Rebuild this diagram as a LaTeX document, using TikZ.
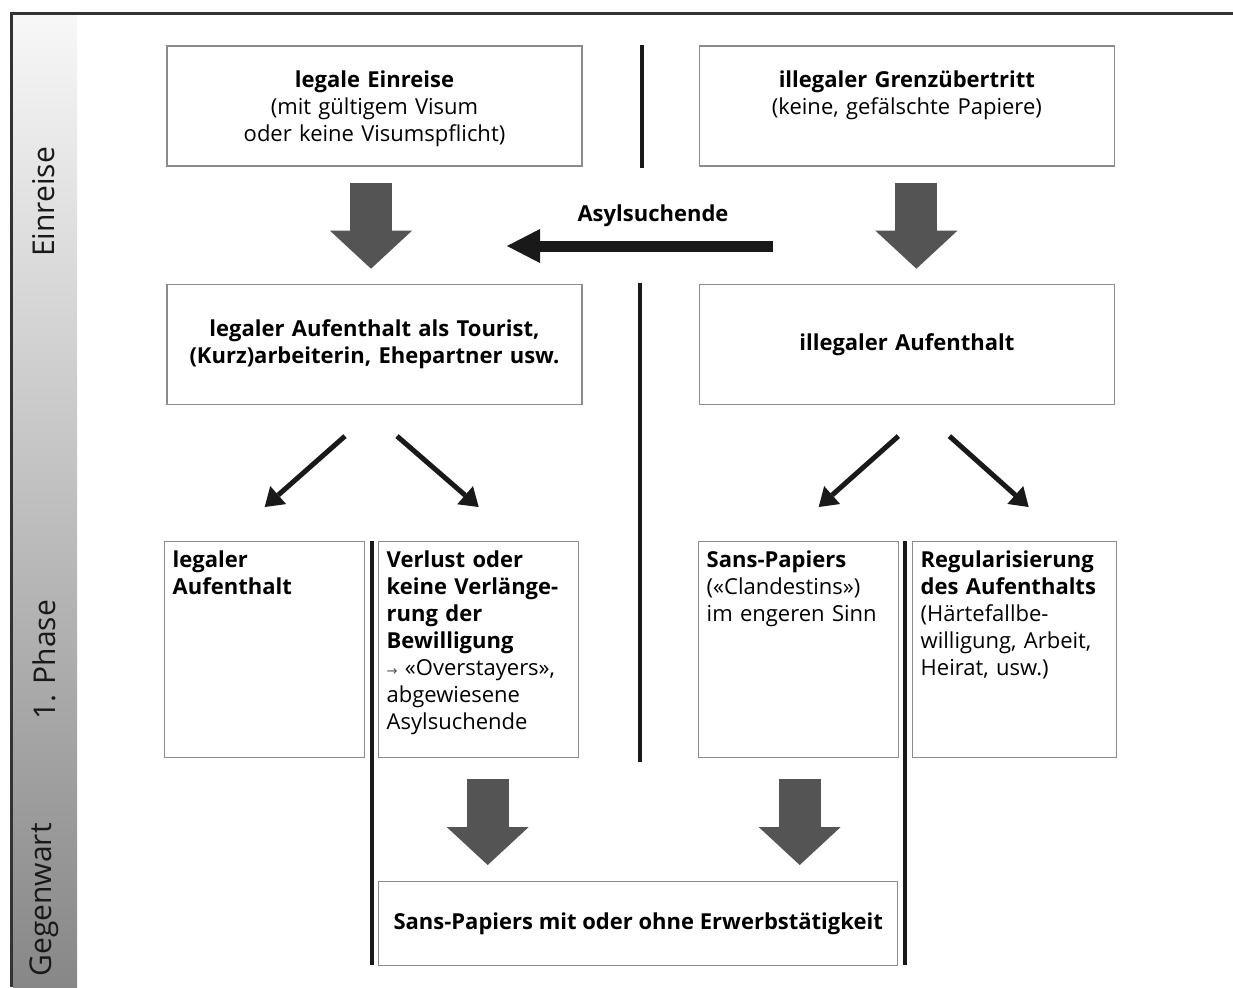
\documentclass[tikz,border=0pt]{standalone}
\usepackage{fontspec}
\setmainfont{Open Sans}
\newfontfamily\arrowfont{DejaVu Sans}
\usetikzlibrary{positioning,arrows.meta}
\tikzset{
  basic/.style    = {draw=black!45, line width=0.7pt, rectangle,
                     font=\fontsize{11pt}{13.5pt}\selectfont},
  topbox/.style   = {basic, text width=207.5pt, align=center, inner sep=0pt,
                     text height=20.5pt, text depth=39.5pt},
  midbox/.style   = {basic, text width=207.5pt, align=center, inner sep=0pt,
                     minimum height=60pt},
  smallbox/.style = {basic, anchor=north west, text width=92pt, align=left,
                     inner xsep=4pt, inner ysep=3pt,
                     text height=10pt, text depth=92pt},
  endbox/.style   = {basic, anchor=north west, align=center,
                     minimum width=259.5pt, minimum height=42pt},
  phase/.style    = {rotate=90, font=\fontsize{15pt}{17pt}\selectfont,
                     text=black!90},
  fatarrow/.style = {draw=black!67, line width=21pt,
                     -{Triangle[length=19pt,width=41pt,line width=0pt]}},
  thinarrow/.style = {draw=black!90, line width=2.5pt,
                     -{Triangle[length=9pt,width=12pt,line width=0pt]}},
  divider/.style  = {draw=black!90, line width=2pt}
}
\begin{document}
\begin{tikzpicture}[x=0.5pt, y=-0.5pt]
  \useasboundingbox (0,0) rectangle (1233,987);

  % frame and phase bar on the left
  \shade[top color=black!3, bottom color=black!47] (13,15) rectangle (77,987);
  \draw[black!80, line width=1.5pt] (11,987) -- (11,13) -- (1233,13);
  \node[phase] (einreise) at (44,202) {Einreise};
  \node[phase] (phase1) at (44,660) {1. Phase};
  \node[phase] (gegenwart) at (44,900) {Gegenwart};

  % first row: entry
  \node[topbox] (legal) at (374.5,106)
    {\textbf{legale Einreise}\\(mit gültigem Visum\\oder keine Visumspflicht)};
  \node[topbox, right=58pt of legal] (illegal)
    {\textbf{illegaler Grenzübertritt}\\(keine, gefälschte Papiere)};

  % second row: stay
  \node[midbox, below=58.5pt of legal, font=\fontsize{11pt}{13.5pt}\selectfont\bfseries] (legalstay)
    {legaler Aufenthalt als Tourist,\\(Kurz)arbeiterin, Ehepartner usw.};
  \node[midbox, below=58.5pt of illegal, font=\fontsize{11pt}{13.5pt}\selectfont\bfseries] (illegalstay)
    {illegaler Aufenthalt};

  % third row, fixed positions
  \node[smallbox] (stay) at (164,541) {\textbf{legaler}\\\textbf{Aufenthalt}};
  \node[smallbox] (loss) at (378,541)
    {\textbf{Verlust oder}\\\textbf{keine Verlänge-}\\\textbf{rung der}\\\textbf{Bewilligung}\\
     {\arrowfont\fontsize{6.5pt}{8pt}\selectfont\color{black!70}→} «Overstayers»,\\abgewiesene\\Asylsuchende};
  \node[smallbox] (sanspap) at (698,541)
    {\textbf{Sans-Papiers}\\(«Clandestins»)\\im engeren Sinn};
  \node[smallbox, text width=94pt] (regular) at (912,541)
    {\textbf{Regularisierung}\\\textbf{des Aufenthalts}\\(Härtefallbe-\\willigung, Arbeit,\\Heirat, usw.)};

  % bottom row
  \node[endbox, font=\fontsize{11pt}{13.5pt}\selectfont\bfseries] (present) at (378,881)
    {Sans-Papiers mit oder ohne Erwerbstätigkeit};

  % dividing lines
  \draw[divider] (642,45) -- (642,168);
  \draw[divider] (640,283) -- (640,762);
  \draw[divider] (372,541) -- (372,965);
  \draw[divider] (905,541) -- (905,965);

  % fat arrows
  \draw[fatarrow] ([xshift=-1.75pt, yshift=-8pt]legal.south) -- ([xshift=-1.75pt, yshift=7.5pt]legalstay.north);
  \draw[fatarrow] ([xshift=4.75pt, yshift=-8pt]illegal.south) -- ([xshift=4.75pt, yshift=7.5pt]illegalstay.north);
  \draw[fatarrow] ([xshift=4.5pt, yshift=-10.5pt]loss.south) -- ([xshift=-75.25pt, yshift=8pt]present.north);
  \draw[fatarrow] ([xshift=0.5pt, yshift=-10.5pt]sanspap.south) -- ([xshift=80.75pt, yshift=8pt]present.north);

  % asylum seekers switch sides
  \coordinate (asylfrom) at (773,246);
  \coordinate (asylto) at (507,246);
  \draw[draw=black!90, line width=5.5pt,
        -{Triangle[length=16.5pt,width=17pt,line width=0pt]}] (asylfrom) -- (asylto);
  \node[font=\fontsize{11pt}{13.5pt}\selectfont\bfseries] (asyl) at (653,216) {Asylsuchende};

  % splitting arrows
  \draw[thinarrow] ([xshift=-14.75pt, yshift=-15.5pt]legalstay.south) -- ([yshift=17pt]stay.north);
  \draw[thinarrow] ([xshift=11.25pt, yshift=-15.5pt]legalstay.south) -- ([yshift=17pt]loss.north);
  \draw[thinarrow] ([xshift=-4.25pt, yshift=-15.5pt]illegalstay.south) -- ([xshift=10pt, yshift=17pt]sanspap.north);
  \draw[thinarrow] ([xshift=21.25pt, yshift=-15.5pt]illegalstay.south) -- ([xshift=7pt, yshift=17pt]regular.north);
\end{tikzpicture}
\end{document}
